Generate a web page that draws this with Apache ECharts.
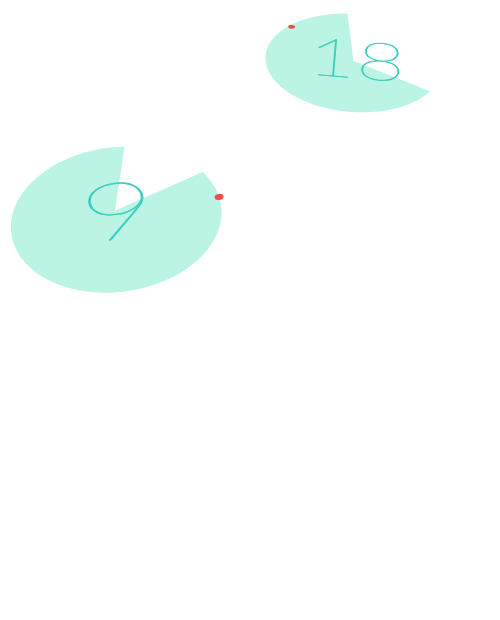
<!DOCTYPE html>
<html><head><meta charset="utf-8">
<script src="https://cdn.jsdelivr.net/npm/echarts@6/dist/echarts.min.js"></script>
<style>html,body{margin:0;padding:0;background:#fff}#c{width:500px;height:620px}</style>
</head><body><div id="c"></div>
<script>
// data
const labels = ['9', '18'];
const xValues = [23.0, 70.7];
const yValues = [66.0, 90.16];
const gapStart = [23.3, -28.6];   // degrees, in the disc plane
const gapEnd = [79.0, 96.7];
const dotAngle = [0, 141];

// appearance per item (not data)
const looks = [
  {R: 105, tilt: 0.678, persp: 0.124, rot: 7.6, font: 117, tsx: 1.12, tdx: 3, tdy: 3, dotR: 4.5, dotRad: 1.0},
  {R: 88, tilt: 0.556, persp: 0.04, rot: -4.7, font: 94, tsx: 0.9, tdx: 3, tdy: 0, dotR: 3.5, dotRad: 0.965}
];

const chart = echarts.init(document.getElementById('c'));
function proj(th, r, L) {
  const c = Math.cos(th), s = Math.sin(th);
  const d = 1 + L.persp * s * r / L.R;
  return [r * c / d, -r * L.tilt * s / d];
}
const data = labels.map((l, i) => [xValues[i], yValues[i], i]);
chart.setOption({
  animation: false,
  grid: {left: 0, right: 0, top: 0, bottom: 0},
  xAxis: {type: 'value', min: 0, max: 100, show: false},
  yAxis: {type: 'value', min: 0, max: 100, show: false},
  series: [{
    type: 'custom',
    data: data,
    renderItem: function (params, api) {
      const i = api.value(2);
      const L = looks[i];
      const p = api.coord([api.value(0), api.value(1)]);
      const a0 = gapEnd[i] * Math.PI / 180;
      const a1 = (gapStart[i] + 360) * Math.PI / 180;
      const pts = [[0, 0]];
      const n = 180;
      for (let k = 0; k <= n; k++) {
        pts.push(proj(a0 + (a1 - a0) * k / n, L.R, L));
      }
      const dp = proj(dotAngle[i] * Math.PI / 180, L.R * L.dotRad, L);
      return {
        type: 'group', x: p[0], y: p[1], rotation: L.rot * Math.PI / 180,
        children: [
          {type: 'polygon', shape: {points: pts}, style: {fill: '#bbf3e5'}},
          {type: 'text', x: L.tdx, y: L.tdy, scaleX: L.tsx, scaleY: L.tilt,
            style: {text: labels[i], fill: '#3dcdbf', stroke: '#3dcdbf', lineWidth: 0.9,
              align: 'center', verticalAlign: 'middle',
              font: '200 ' + L.font + 'px Lato'}},
          {type: 'circle', x: dp[0], y: dp[1], scaleY: L.tilt, shape: {cx: 0, cy: 0, r: L.dotR}, style: {fill: '#f44b4b'}}
        ]
      };
    }
  }]
});
</script></body></html>
